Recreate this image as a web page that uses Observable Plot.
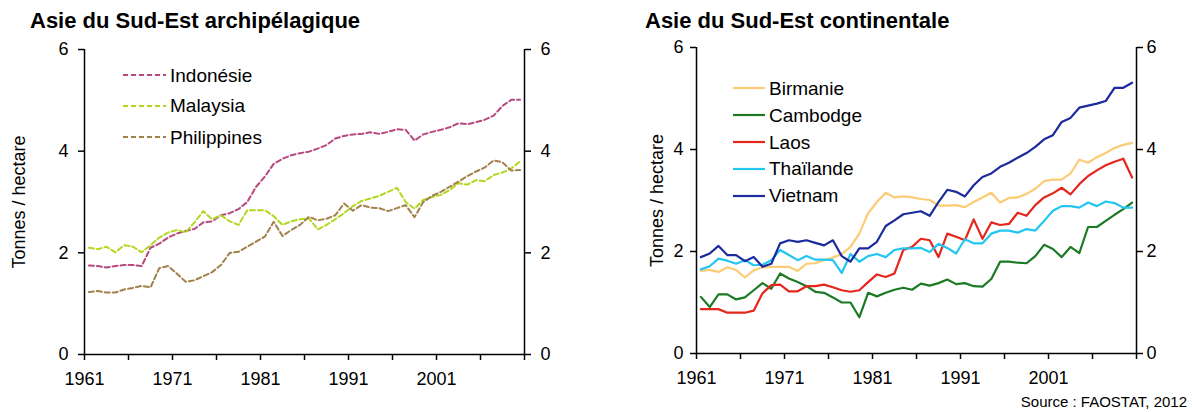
<!DOCTYPE html>
<html><head><meta charset="utf-8">
<script src="https://cdn.jsdelivr.net/npm/d3@7"></script>
<script src="https://cdn.jsdelivr.net/npm/@observablehq/plot@0.6"></script>
<style>
body{margin:0;background:#fff;}
#wrap{position:relative;width:1192px;height:412px;font-family:"Liberation Sans",Arial,sans-serif;color:#000;overflow:hidden;background:#fff}
.title{position:absolute;font-weight:bold;font-size:22px;top:10px;line-height:1;white-space:nowrap}
.chart{position:absolute}
.legend{position:absolute;left:0;top:0;font-size:19px}
.row{display:flex;align-items:center;position:absolute;height:26px;white-space:nowrap}
.row span{line-height:1}
.source{position:absolute;right:5px;top:394px;font-size:15px;line-height:1;white-space:nowrap}
</style></head><body>
<div id="wrap">
  <div class="title" style="left:30px">Asie du Sud-Est archipélagique</div>
  <div class="title" style="left:645px">Asie du Sud-Est continentale</div>
  <div id="c1" class="chart" style="left:0;top:36px"></div>
  <div id="c2" class="chart" style="left:596px;top:36px"></div>
  <div id="leg1" class="legend"></div>
  <div id="leg2" class="legend"></div>
  <div class="source">Source : FAOSTAT, 2012</div>
</div>
<script>
// ---------- data ----------
const years = [1961,1962,1963,1964,1965,1966,1967,1968,1969,1970,
  1971,1972,1973,1974,1975,1976,1977,1978,1979,1980,
  1981,1982,1983,1984,1985,1986,1987,1988,1989,1990,
  1991,1992,1993,1994,1995,1996,1997,1998,1999,2000,
  2001,2002,2003,2004,2005,2006,2007,2008,2009,2010];

const indonesie = [1.75,1.74,1.71,1.74,1.76,1.76,1.74,2.10,2.18,2.30,
  2.38,2.43,2.47,2.60,2.62,2.74,2.78,2.86,3.00,3.30,
  3.50,3.75,3.85,3.92,3.96,3.99,4.05,4.12,4.25,4.30,
  4.33,4.34,4.37,4.34,4.38,4.43,4.42,4.21,4.33,4.38,
  4.42,4.47,4.55,4.53,4.57,4.62,4.70,4.89,5.01,5.01];
const malaysia = [2.10,2.07,2.12,2.01,2.15,2.12,2.01,2.15,2.30,2.40,
  2.45,2.40,2.60,2.82,2.66,2.74,2.62,2.55,2.84,2.84,
  2.84,2.72,2.55,2.62,2.66,2.68,2.46,2.55,2.66,2.78,
  2.92,3.02,3.07,3.12,3.20,3.28,3.00,2.87,3.04,3.10,
  3.14,3.24,3.37,3.34,3.43,3.41,3.53,3.58,3.66,3.80];
const philippines = [1.23,1.25,1.22,1.22,1.28,1.31,1.35,1.32,1.70,1.74,
  1.59,1.43,1.46,1.54,1.62,1.76,2.00,2.02,2.12,2.22,
  2.32,2.61,2.33,2.45,2.55,2.71,2.64,2.67,2.74,2.97,
  2.83,2.94,2.89,2.88,2.82,2.88,2.94,2.70,3.00,3.12,
  3.20,3.30,3.40,3.51,3.60,3.68,3.82,3.78,3.62,3.63];

const birmanie = [1.62,1.64,1.60,1.69,1.64,1.49,1.63,1.69,1.70,1.70,
  1.70,1.62,1.76,1.77,1.83,1.88,1.95,2.09,2.35,2.75,
  2.97,3.15,3.06,3.08,3.06,3.03,3.01,2.90,2.90,2.91,
  2.87,2.97,3.06,3.15,2.96,3.05,3.06,3.13,3.23,3.38,
  3.41,3.41,3.53,3.80,3.74,3.85,3.93,4.03,4.09,4.13];
const cambodge = [1.11,0.91,1.16,1.16,1.06,1.10,1.24,1.38,1.27,1.57,
  1.47,1.40,1.32,1.21,1.19,1.10,1.00,1.00,0.71,1.19,
  1.12,1.19,1.25,1.29,1.25,1.37,1.33,1.38,1.45,1.36,
  1.38,1.32,1.31,1.46,1.80,1.80,1.78,1.77,1.91,2.13,
  2.05,1.89,2.09,1.97,2.48,2.48,2.60,2.72,2.83,2.96];
const laos = [0.87,0.87,0.87,0.80,0.80,0.80,0.84,1.18,1.34,1.35,
  1.22,1.22,1.32,1.32,1.35,1.30,1.24,1.21,1.24,1.40,
  1.55,1.50,1.57,2.03,2.09,2.25,2.22,1.89,2.35,2.29,
  2.22,2.63,2.25,2.57,2.52,2.54,2.76,2.70,2.91,3.06,
  3.14,3.25,3.12,3.32,3.48,3.59,3.69,3.76,3.82,3.45];
const thailande = [1.65,1.71,1.86,1.82,1.76,1.83,1.73,1.74,1.83,2.03,
  1.93,1.83,1.91,1.84,1.84,1.83,1.58,1.95,1.80,1.91,
  1.95,1.89,2.03,2.06,2.06,2.07,1.99,2.15,2.07,1.96,
  2.24,2.16,2.16,2.35,2.41,2.41,2.37,2.44,2.41,2.60,
  2.80,2.89,2.89,2.86,2.96,2.89,2.98,2.95,2.86,2.86];
const vietnam = [1.89,1.96,2.11,1.93,1.93,1.81,1.89,1.70,1.76,2.16,
  2.22,2.19,2.22,2.17,2.12,2.22,1.91,1.80,2.06,2.06,
  2.19,2.50,2.61,2.73,2.76,2.79,2.70,2.97,3.21,3.17,
  3.08,3.30,3.46,3.53,3.66,3.74,3.84,3.93,4.05,4.20,
  4.28,4.54,4.62,4.82,4.86,4.90,4.95,5.21,5.21,5.31];

const namesLeft = ["Indonésie","Malaysia","Philippines"];
const colorsLeft = ["#b8487f","#b2d81e","#a3814c"];
const namesRight = ["Birmanie","Cambodge","Laos","Thaïlande","Vietnam"];
const colorsRight = ["#fccb76","#1c7a25","#e4261c","#22c6f0","#1b2a9c"];

const xTickYears = [1961,1966,1971,1976,1981,1986,1991,1996,2001,2006,2011];
const xLabelYears = [1961,1971,1981,1991,2001];
const yTicks = [0,2,4,6];
const yLabel = "Tonnes / hectare";

// ---------- build tables ----------
function table(names, seriesList) {
  return names.flatMap((name, k) => years.map((year, i) => ({name, year, value: seriesList[k][i]})));
}
const rowsLeft = table(namesLeft, [indonesie, malaysia, philippines]);
const rowsRight = table(namesRight, [birmanie, cambodge, laos, thailande, vietnam]);

const FONT = '"Liberation Sans", Arial, sans-serif';

function chart(rows, names, colors, o) {
  return Plot.plot({
    width: 596, height: 360,
    marginLeft: o.ml, marginRight: o.mr, marginTop: o.mt, marginBottom: o.mb,
    x: {domain: [xTickYears[0], xTickYears[xTickYears.length - 1]], axis: null},
    y: {domain: [yTicks[0], yTicks[yTicks.length - 1]], axis: null},
    color: {domain: names, range: colors},
    style: {fontFamily: FONT, fontSize: "18px", color: "#000", background: "transparent", overflow: "visible"},
    marks: [
      Plot.axisX(xTickYears, {tickSize: 6, strokeWidth: 1.5, tickFormat: () => ""}),
      Plot.axisX(xLabelYears, {tickSize: 0, tickPadding: 18, fontSize: 18, tickFormat: d => String(d)}),
      Plot.axisY(yTicks, {anchor: "left", tickSize: 6, strokeWidth: 1.5, tickPadding: o.lp, fontSize: 18,
        tickFormat: d => String(d),
        label: yLabel, labelAnchor: "center", labelArrow: "none", labelOffset: o.lo}),
      Plot.axisY(yTicks, {anchor: "right", tickSize: 6, strokeWidth: 1.5, tickPadding: o.rp, fontSize: 18,
        tickFormat: d => String(d), label: null}),
      Plot.ruleY([yTicks[0]], {strokeWidth: 1.5}),
      Plot.ruleX([xTickYears[0], xTickYears[xTickYears.length - 1]], {strokeWidth: 1.5}),
      Plot.line(rows, {x: d => d.year + 0.5, y: "value", z: "name", stroke: "name",
        strokeWidth: o.sw, strokeDasharray: o.dash, strokeLinejoin: "round"})
    ]
  });
}

document.getElementById("c1").append(chart(rowsLeft, namesLeft, colorsLeft,
  {ml: 84, mr: 72, mt: 13, mb: 42, lp: 10, rp: 10, lo: 72, sw: 2, dash: "5,3"}));
document.getElementById("c2").append(chart(rowsRight, namesRight, colorsRight,
  {ml: 100, mr: 56, mt: 11, mb: 43, lp: 7, rp: 4, lo: 46, sw: 2.2, dash: null}));

// ---------- legends (HTML) ----------
function legend(el, names, colors, left, tops, lineW, dash) {
  names.forEach((n, i) => {
    const row = document.createElement("div");
    row.className = "row";
    row.style.left = left + "px";
    row.style.top = (tops[i] - 13) + "px";
    row.innerHTML = `<svg width="${lineW}" height="4" style="display:block"><line x1="0" x2="${lineW}" y1="2" y2="2" stroke="${colors[i]}" stroke-width="2.2" ${dash ? `stroke-dasharray="${dash}"` : ""}/></svg><span style="margin-left:4px">${n}</span>`;
    el.append(row);
  });
}
legend(document.getElementById("leg1"), namesLeft, colorsLeft, 123, [75, 105.5, 137], 43, "5,3");
legend(document.getElementById("leg2"), namesRight, colorsRight, 733, [88, 115, 142, 168.5, 195.5], 32, null);
</script>
</body></html>
